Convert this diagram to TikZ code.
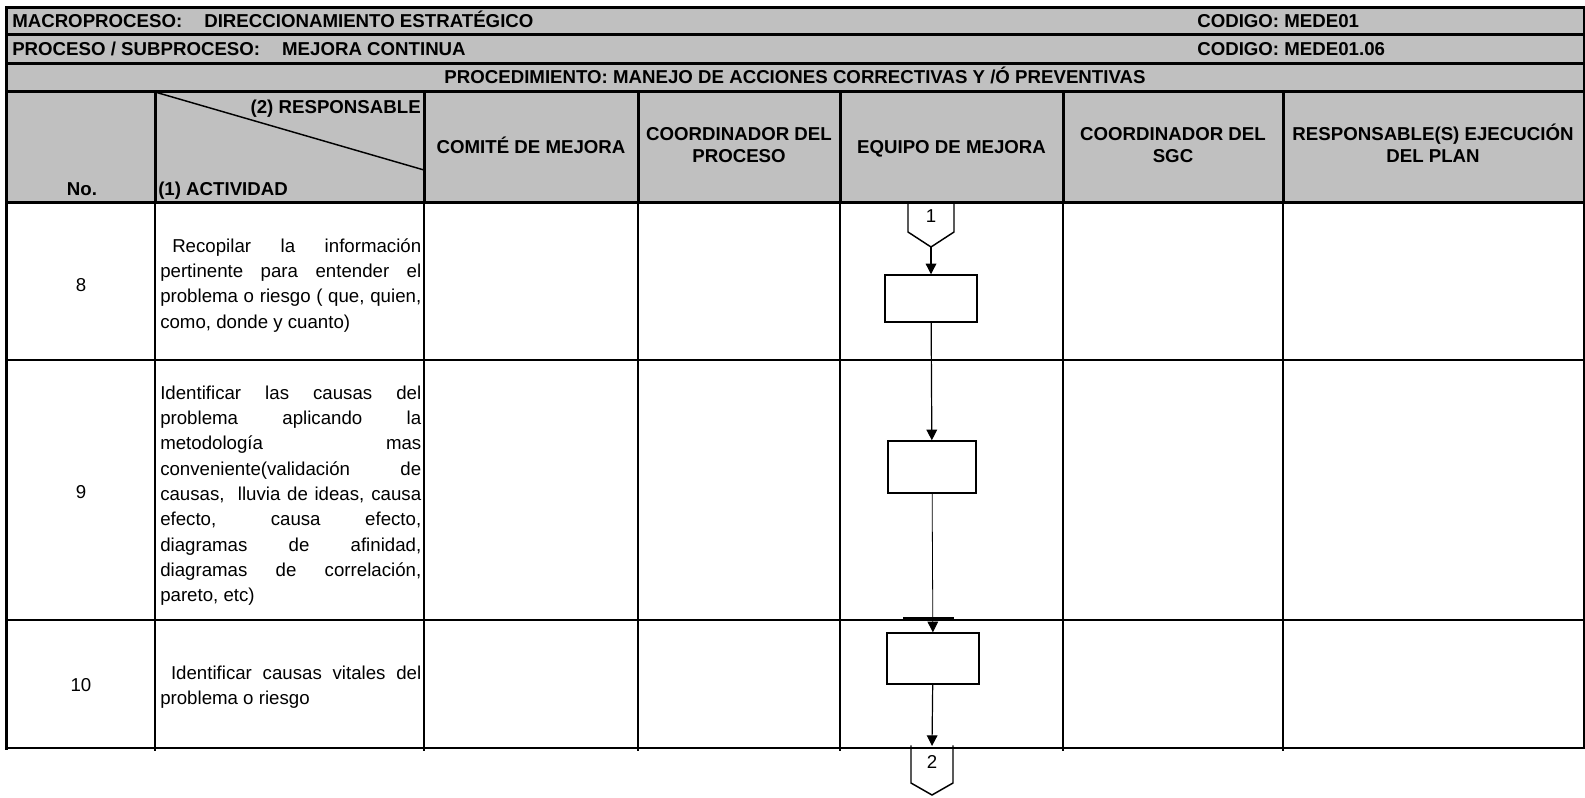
\documentclass[tikz,border=0pt]{standalone}
\usepackage{fontspec}
\setmainfont{Liberation Sans}
\usepackage{xcolor}
\usetikzlibrary{arrows.meta}
\definecolor{header_gray}{HTML}{c0c0c0}

% one justified line of an activity text
\newcommand{\jline}[1]{\makebox[195.75pt][s]{#1}}

\begin{document}
\begin{tikzpicture}[
                x=0.75pt,
                y=-0.75pt,
                line cap=rect,
                hdr/.style={font=\fontsize{14}{16.5}\selectfont\bfseries, inner sep=0pt},
                txt/.style={font=\fontsize{14}{19}\selectfont, inner sep=0pt},
                act/.style={txt, align=left, anchor=north west},
                heavy/.style={line width=2.25pt},
                rowline/.style={line width=1.5pt},
                colline/.style={line width=1.1pt},
                stepbox/.style={draw, rectangle, line width=1.1pt, inner sep=0pt},
                flow/.style={-{Triangle[width=8pt,length=8pt]}, line width=0.9pt, line cap=butt}
            ]
            \useasboundingbox (0,0) rectangle (1585,797);

            % Header background
            \fill[header_gray] (6,7) rectangle (1584,202);

            % Grid lines
            \foreach \y in {7,34,63,91,202}
                \draw[heavy] (6,\y) -- (1584,\y);
            \foreach \x in {155,424,638,840,1063,1283} {
                \draw[heavy] (\x,91) -- (\x,202);
                \draw[colline] (\x,202) -- (\x,750);
            }
            \foreach \y in {360,620,748}
                \draw[rowline] (6,\y) -- (1584,\y);
            \draw[heavy] (6,7) -- (6,748);
            \draw[rowline] (1584,7) -- (1584,748);
            \draw[colline] (155,92) -- (424,170);

            % Title rows
            \node[hdr, anchor=base west] (macro) at (12,27.5) {MACROPROCESO:\hspace{16.5pt}DIRECCIONAMIENTO ESTRATÉGICO};
            \node[hdr, anchor=base west] (cod1) at (1197,27.5) {CODIGO: MEDE01};
            \node[hdr, anchor=base west] (proceso) at (12,55) {PROCESO / SUBPROCESO:\hspace{16.5pt}MEJORA CONTINUA};
            \node[hdr, anchor=base west] (cod2) at (1197,55) {CODIGO: MEDE01.06};
            \node[hdr, anchor=base] (proc) at (795,83.5) {PROCEDIMIENTO: MANEJO DE ACCIONES CORRECTIVAS Y /Ó PREVENTIVAS};

            % Column headings
            \node[hdr, anchor=base] (no) at (82,195) {No.};
            \node[hdr, anchor=base west] (activ) at (158,195) {(1) ACTIVIDAD};
            \node[hdr, anchor=base east] (resp) at (421,113) {(2) RESPONSABLE};
            \node[hdr, anchor=base] (comite) at (531,153) {COMITÉ DE MEJORA};
            \node[hdr, anchor=base] (coorda) at (739,140) {COORDINADOR DEL};
            \node[hdr, anchor=base] (coordb) at (739,162) {PROCESO};
            \node[hdr, anchor=base] (equipo) at (951.5,153) {EQUIPO DE MEJORA};
            \node[hdr, anchor=base] (sgca) at (1173,140) {COORDINADOR DEL};
            \node[hdr, anchor=base] (sgcb) at (1173,162) {SGC};
            \node[hdr, anchor=base] (ejeca) at (1433,140) {RESPONSABLE(S) EJECUCIÓN};
            \node[hdr, anchor=base] (ejecb) at (1433,162) {DEL PLAN};

            % Activities
            \node[txt, anchor=base] (n8) at (81,291.5) {8};
            \node[act] (a8) at (160,238) {\jline{\hspace*{9pt}Recopilar la información}\\
                \jline{pertinente para entender el}\\
                \jline{problema o riesgo ( que, quien,}\\
                como, donde y cuanto)};
            \node[txt, anchor=base] (n9) at (81,498.5) {9};
            \node[act] (a9) at (160,385.5) {\jline{Identificar las causas del}\\
                \jline{problema aplicando la}\\
                \jline{metodología mas}\\
                \jline{conveniente(validación de}\\
                \jline{causas,\ \ lluvia de ideas, causa}\\
                \jline{efecto, causa efecto,}\\
                \jline{diagramas de afinidad,}\\
                \jline{diagramas de correlación,}\\
                pareto, etc)};
            \node[txt, anchor=base] (n10) at (81,691.5) {10};
            \node[act] (a10) at (160,665.5) {\jline{\ Identificar causas vitales del}\\
                problema o riesgo};

            % Flow of the EQUIPO DE MEJORA
            \draw[colline, line cap=butt] (908,203) -- (908,232) -- (931,247) -- (954,232) -- (954,203);
            \node[txt, anchor=base] (k1) at (931,222) {1};
            \coordinate (c1) at (931,247);

            \node[stepbox, minimum width=69pt, minimum height=35.25pt] (b8) at (931,298.5) {};
            \node[stepbox, minimum width=66pt, minimum height=39pt] (b9) at (932,467) {};
            \node[stepbox, minimum width=69pt, minimum height=38.25pt] (b10) at (933,658.5) {};
            \draw[line width=2.6pt] (905,619) -- (952,619);

            \coordinate (c2) at (932,746);
            \draw[colline] (911,746) -- (911,783) -- (932,795) -- (953,783) -- (953,746);
            \node[txt, anchor=base] (k2) at (932,768) {2};

            \draw[flow] (c1) -- (b8);
            \draw[flow] (b8) -- (b9);
            \draw[flow, line width=0.6pt] (b9) -- (b10);
            \draw[flow] (b10) -- (c2);
        \end{tikzpicture}
\end{document}
